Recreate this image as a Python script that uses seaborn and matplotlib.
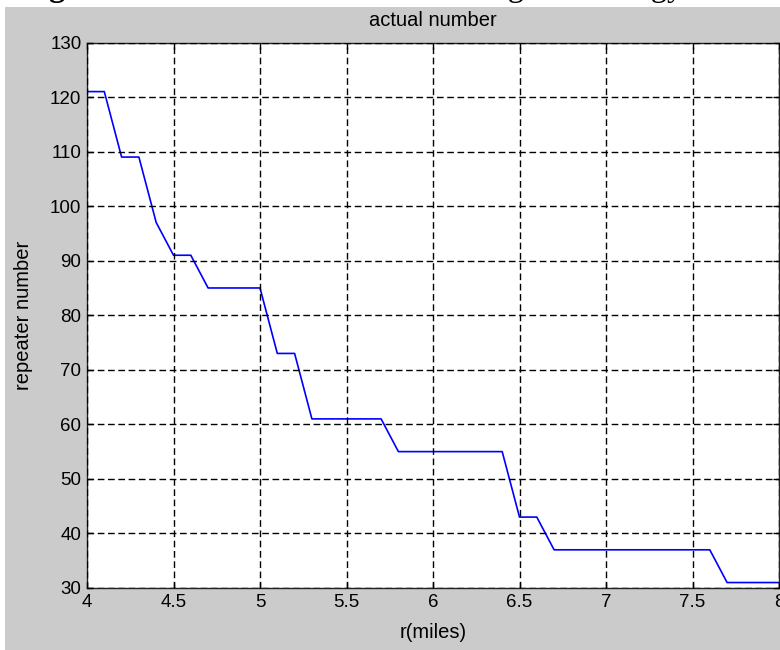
import matplotlib
matplotlib.use("Agg")
import matplotlib.pyplot as plt
from matplotlib.patches import Rectangle
import seaborn as sns
import pandas as pd

# distance r (miles) at each corner of the curve, and the repeater count there
r_miles = [4.0, 4.1, 4.2, 4.3, 4.4, 4.5, 4.6, 4.7, 5.0, 5.1, 5.2, 5.3,
           5.7, 5.8, 6.4, 6.5, 6.6, 6.7, 7.6, 7.7, 8.0]
repeaters = [121, 121, 109, 109, 97, 91, 91, 85, 85, 73, 73, 61,
             61, 55, 55, 43, 43, 37, 37, 31, 31]

x_ticks = [4, 4.5, 5, 5.5, 6, 6.5, 7, 7.5, 8]
x_tick_labels = ["4", "4.5", "5", "5.5", "6", "6.5", "7", "7.5", "8"]
y_ticks = [30, 40, 50, 60, 70, 80, 90, 100, 110, 120, 130]

caption_bold = "Figure 5"
caption_rest = " demonstrates the result using the strategy two."

df = pd.DataFrame({"r": r_miles, "n": repeaters})

sns.set_theme(style="white")
plt.rcParams["font.family"] = ["Liberation Sans", "DejaVu Sans"]

W, H = 780, 650
fig = plt.figure(figsize=(W / 100, H / 100), dpi=100, facecolor="white")

# grey window area below the caption line
fig.add_artist(Rectangle((5 / W, 0), 1, (H - 7) / H, transform=fig.transFigure,
                         facecolor="#cbcbcb", edgecolor="none", zorder=-10))

# caption line of the surrounding document, mostly hidden under the window
cap_y = 1 + 4.0 / H
t1 = fig.text(20 / W, cap_y, caption_bold, family="Liberation Serif",
              fontweight="bold", fontsize=23.5, va="baseline", ha="left",
              color="black", zorder=-20)
fig.canvas.draw()
bb = t1.get_window_extent(fig.canvas.get_renderer())
fig.text(bb.x1 / W, cap_y, caption_rest, family="Liberation Serif",
         fontsize=23.5, va="baseline", ha="left", color="black", zorder=-20)

ax = fig.add_axes([87 / W, 62 / H, (779 - 87) / W, (588 - 42.5) / H])
ax.set_facecolor("white")

sns.lineplot(data=df, x="r", y="n", ax=ax, color="#0000ff", linewidth=1.2,
             estimator=None, sort=False)

ax.set_xlim(4, 8)
ax.set_ylim(30, 130)
ax.set_xticks(x_ticks)
ax.set_xticklabels(x_tick_labels)
ax.set_yticks(y_ticks)

ax.grid(True, color="black", linestyle=(0, (4.8, 2.6)), linewidth=1.0)
ax.set_axisbelow(False)

ax.tick_params(axis="both", which="both", direction="in", length=4.5,
               width=1.0, color="black", top=True, right=True,
               bottom=True, left=True, labelsize=13.5, labelcolor="black",
               pad=4)
for s in ax.spines.values():
    s.set_color("#222222")
    s.set_linewidth(1.0)
    s.set_visible(True)

ax.set_title("actual number", fontsize=14.5, color="black", pad=12)
ax.set_xlabel("r(miles)", fontsize=14.5, color="black", labelpad=9)
ax.set_ylabel("repeater number", fontsize=14.5, color="black", labelpad=12)

fig.savefig("out.png", dpi=100, facecolor="white")
